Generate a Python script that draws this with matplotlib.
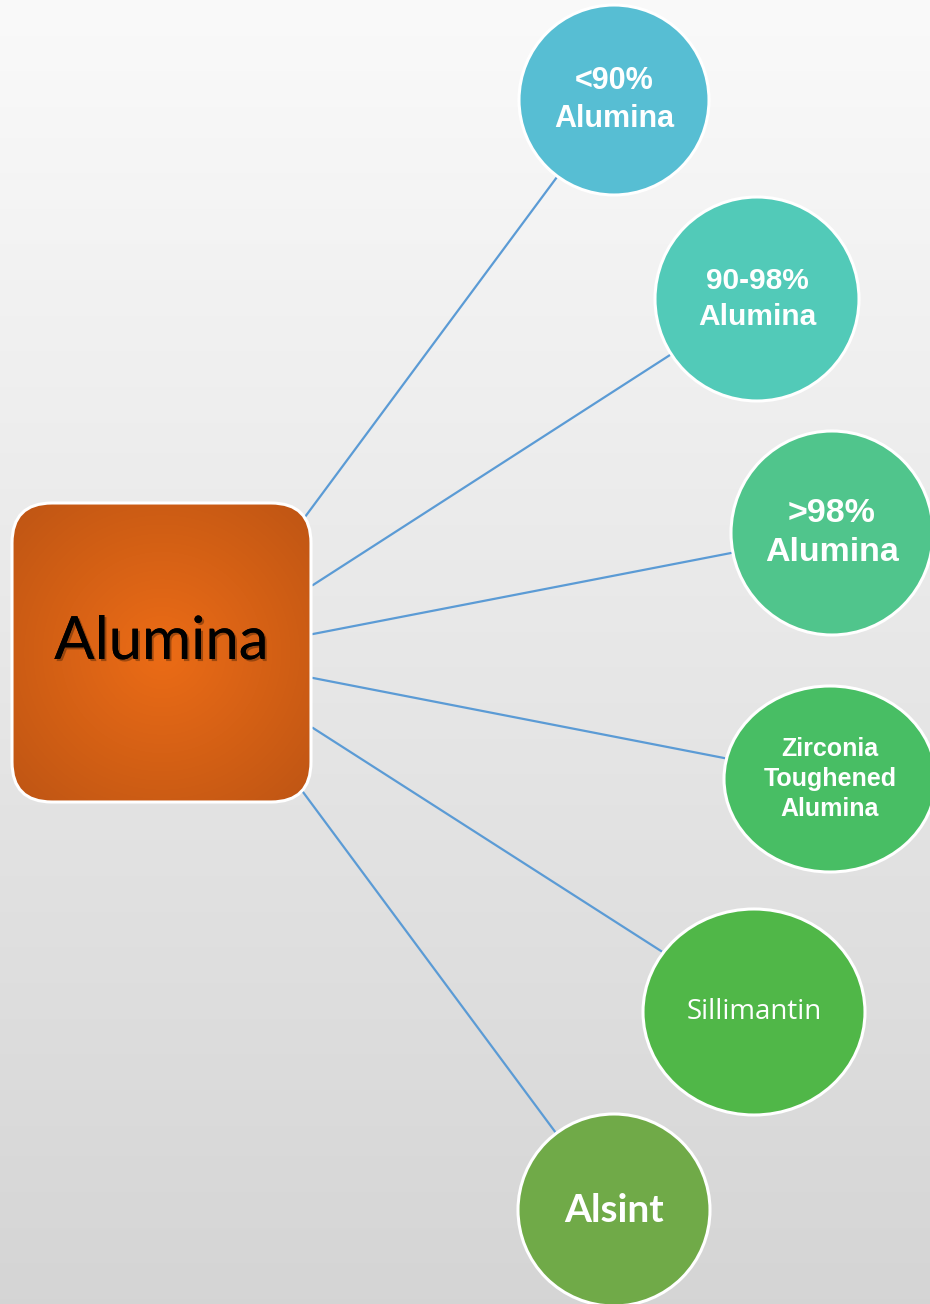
import numpy as np
import matplotlib
matplotlib.use("Agg")
import matplotlib.pyplot as plt
from matplotlib.patches import Ellipse, FancyBboxPatch
import matplotlib.patheffects as pe

# node labels and colours (top to bottom)
labels = ["<90%\nAlumina", "90-98%\nAlumina", ">98%\nAlumina",
          "Zirconia\nToughened\nAlumina", "Sillimantin", "Alsint"]
colors = ["#57BED3", "#52CAB8", "#50C58C", "#48BE64", "#50B748", "#70AA48"]
center_label = "Alumina"

# layout in pixels (x, y, rx, ry)
nodes = [(614, 100, 95, 95), (757, 299, 102, 102), (832, 533, 101, 102),
         (830, 779, 106, 93), (754, 1012, 111, 103), (614, 1210, 96, 96)]
# connector start points on the box and end points on the circles
starts = [(302, 521), (313, 585), (313, 634), (313, 678), (313, 728), (300, 788)]
ends = [(557, 177), (670, 355), (731, 553), (724, 758), (661, 951), (556, 1133)]
fonts = [("Liberation Sans", "bold", 22), ("Liberation Sans", "bold", 21.5),
         ("Liberation Sans", "bold", 24.5), ("Liberation Sans", "bold", 18),
         ("Open Sans", "normal", 20), ("Lato", "bold", 28)]

W, H = 930, 1304
fig = plt.figure(figsize=(W / 100, H / 100), dpi=100)
ax = fig.add_axes([0, 0, 1, 1])
ax.set_xlim(0, W)
ax.set_ylim(H, 0)
ax.axis("off")

# background gradient
g = np.linspace(0, 1, 256)[:, None]
bg = np.ones((256, 2, 3)) * (0.98 - 0.145 * g)[:, :, None]
ax.imshow(bg, extent=[0, W, H, 0], aspect="auto", zorder=0)

# connectors
for (x0, y0), (x1, y1) in zip(starts, ends):
    ax.plot([x0, x1], [y0, y1], color="#5B9BD5", lw=1.6, zorder=1)

# central rounded box with radial gradient
bx0, by0, bx1, by1 = 12, 503, 311, 802
box = FancyBboxPatch((bx0 + 40, by0 + 40), bx1 - bx0 - 80, by1 - by0 - 80,
                     boxstyle="round,pad=40", facecolor="none",
                     edgecolor="white", lw=2.2, zorder=3)
ax.add_patch(box)
yy, xx = np.mgrid[-1:1:300j, -1:1:300j]
r = np.clip(np.sqrt(xx ** 2 + yy ** 2) / 1.35, 0, 1)[:, :, None]
c_in = np.array([236, 108, 22]) / 255
c_out = np.array([192, 86, 20]) / 255
grad = c_in * (1 - r) + c_out * r
im = ax.imshow(grad, extent=[bx0, bx1, by1, by0], aspect="auto", zorder=2)
im.set_clip_path(box)
ax.text((bx0 + bx1) / 2, 642, center_label, ha="center", va="center",
        fontsize=43, family=["Lato", "DejaVu Sans"], color="black", zorder=4,
        path_effects=[pe.withSimplePatchShadow(offset=(1.5, -1.5), shadow_rgbFace="#5a2a08", alpha=0.5),
                      pe.Normal()])

# circles
for lab, col, (cx, cy, rx, ry), (fam, wt, fs) in zip(labels, colors, nodes, fonts):
    ax.add_patch(Ellipse((cx, cy), 2 * rx, 2 * ry, facecolor=col,
                         edgecolor="white", lw=2.2, zorder=3))
    ax.text(cx, cy, lab, ha="center", va="center", color="white",
            fontsize=fs, fontweight=wt, family=[fam, "Liberation Sans", "DejaVu Sans"],
            linespacing=1.33, zorder=4)

fig.savefig("out.png", dpi=100)
